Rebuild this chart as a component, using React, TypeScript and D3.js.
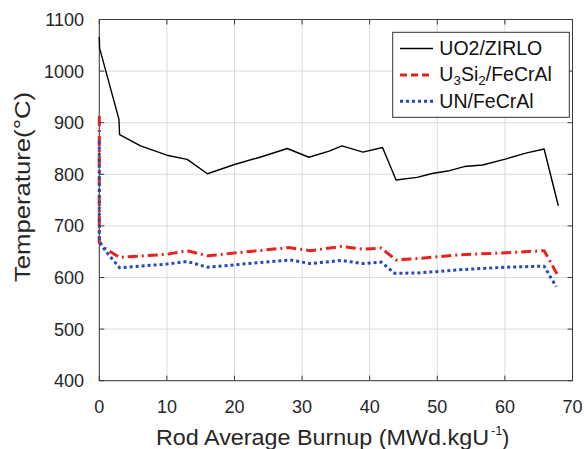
import React from "react";
import * as d3 from "d3";

const xTicks = [0, 10, 20, 30, 40, 50, 60, 70];
const yTicks = [400, 500, 600, 700, 800, 900, 1000, 1100];

const uo2X = [0, 0.05, 2.9, 3.0, 6.1, 10.0, 13.0, 16.0, 20.0, 24.0, 27.8, 31.0, 34.0, 35.9, 39.0, 41.9, 43.9, 47.0, 49.4, 51.8, 54.0, 56.7, 60.2, 63.1, 65.8, 67.9];
const uo2Y = [1066, 1044, 907, 877, 855, 837, 829, 801, 819, 834, 850, 833, 845, 855, 843, 852, 789, 794, 802, 807, 815, 818, 830, 841, 849, 739];

const u3si2X = [0, 0, 1.0, 3.0, 10.0, 13.0, 16.0, 28.0, 31.2, 35.8, 39.0, 41.7, 43.9, 47.4, 53.3, 60.2, 65.8, 67.7];
const u3si2Y = [913, 668, 655, 639, 645, 652, 642, 658, 652, 660, 655, 657, 634, 637, 644, 648, 652, 607];

const unX = [0, 0, 1.0, 3.0, 10.0, 13.0, 16.0, 28.2, 31.2, 35.8, 39.0, 41.7, 43.7, 47.4, 53.3, 60.2, 65.8, 67.6];
const unY = [865, 670, 650, 619, 626, 631, 620, 634, 627, 633, 627, 630, 608, 609, 615, 620, 622, 582];

const legendLabels = ["UO2/ZIRLO", "U3Si2/FeCrAl", "UN/FeCrAl"];

const W = 584;
const H = 449;
const L = 99.3;
const R = 572.5;
const T = 19.5;
const B = 380.7;
const FONT = "'Liberation Sans', Arial, Helvetica, sans-serif";

export default function App() {
  const x = d3.scaleLinear().domain([0, 70]).range([L, R]);
  const y = d3.scaleLinear().domain([400, 1100]).range([B, T]);
  const line = d3
    .line<[number, number]>()
    .x((d) => x(d[0]))
    .y((d) => y(d[1]));
  const toPts = (xs: number[], ys: number[]) => xs.map((v, i) => [v, ys[i]] as [number, number]);

  const series = [
    { pts: toPts(uo2X, uo2Y), color: "#000000", width: 1.4, dash: "none" },
    { pts: toPts(u3si2X, u3si2Y), color: "#e8221c", width: 3, dash: "10,4,2,4" },
    { pts: toPts(unX, unY), color: "#2448c0", width: 3, dash: "3,3" },
  ];
  const legendDash = ["none", "7,4", "3,3"];

  const axisColor = "#3a3a3a";
  const tickLen = 5;

  return (
    <svg
      width={W}
      height={H}
      style={{ position: "absolute", left: 0, top: 0, background: "#fff" }}
      fontFamily={FONT}
    >
      <defs>
        <clipPath id="plotclip">
          <rect x={L - 3} y={T - 2} width={R - L + 6} height={B - T + 4} />
        </clipPath>
      </defs>
      <rect x={0} y={0} width={W} height={H} fill="#fff" />
      {/* grid */}
      {xTicks.map((t) => (
        <line key={"gx" + t} x1={x(t)} x2={x(t)} y1={T} y2={B} stroke="#dcdcdc" strokeWidth={1} />
      ))}
      {yTicks.map((t) => (
        <line key={"gy" + t} x1={L} x2={R} y1={y(t)} y2={y(t)} stroke="#dcdcdc" strokeWidth={1} />
      ))}
      {/* box */}
      <rect x={L} y={T} width={R - L} height={B - T} fill="none" stroke={axisColor} strokeWidth={1} />
      {/* series */}
      <g clipPath="url(#plotclip)">
        {series.map((s, i) => (
          <path
            key={i}
            d={line(s.pts) || ""}
            fill="none"
            stroke={s.color}
            strokeWidth={s.width}
            strokeDasharray={s.dash}
            strokeLinejoin="round"
          />
        ))}
      </g>
      {/* ticks */}
      {xTicks.map((t) => (
        <g key={"tx" + t}>
          <line x1={x(t)} x2={x(t)} y1={B} y2={B - tickLen} stroke={axisColor} />
          <line x1={x(t)} x2={x(t)} y1={T} y2={T + tickLen} stroke={axisColor} />
          <text x={x(t)} y={413} textAnchor="middle" fontSize={18} fill="#262626">
            {t}
          </text>
        </g>
      ))}
      {yTicks.map((t) => (
        <g key={"ty" + t}>
          <line x1={L} x2={L + tickLen} y1={y(t)} y2={y(t)} stroke={axisColor} />
          <line x1={R} x2={R - tickLen} y1={y(t)} y2={y(t)} stroke={axisColor} />
          <text x={84} y={y(t) + 6.5} textAnchor="end" fontSize={18} fill="#262626">
            {t}
          </text>
        </g>
      ))}
      {/* axis labels */}
      <text x={156} y={445} fontSize={22} fill="#262626" textLength={333} lengthAdjust="spacingAndGlyphs">
        Rod Average Burnup (MWd.kgU
      </text>
      <text x={491} y={435} fontSize={13} fill="#262626">-1</text>
      <text x={502} y={445} fontSize={22} fill="#262626">)</text>
      <text
        transform={`translate(30, 187) rotate(-90)`}
        textAnchor="middle"
        fontSize={22}
        fill="#262626"
        textLength={190}
        lengthAdjust="spacingAndGlyphs"
      >
        Temperature(°C)
      </text>
      {/* legend */}
      <rect x={392.7} y={32.3} width={176.6} height={85} fill="#fff" stroke="#333" strokeWidth={1} />
      {legendLabels.map((lab, i) => {
        const ly = 48.5 + i * 26.4;
        const s = series[i];
        return (
          <g key={lab}>
            <line
              x1={400}
              x2={433}
              y1={ly}
              y2={ly}
              stroke={s.color}
              strokeWidth={i === 0 ? 1.4 : 3}
              strokeDasharray={legendDash[i]}
            />
            <text x={439.3} y={ly + 6.5} fontSize={19.5} fill="#111">
              {i === 0 ? (
                "UO2/ZIRLO"
              ) : i === 1 ? (
                <>
                  U<tspan dy={4} fontSize={13.5}>3</tspan>
                  <tspan dy={-4}>Si</tspan>
                  <tspan dy={4} fontSize={13.5}>2</tspan>
                  <tspan dy={-4}>/FeCrAl</tspan>
                </>
              ) : (
                "UN/FeCrAl"
              )}
            </text>
          </g>
        );
      })}
    </svg>
  );
}
